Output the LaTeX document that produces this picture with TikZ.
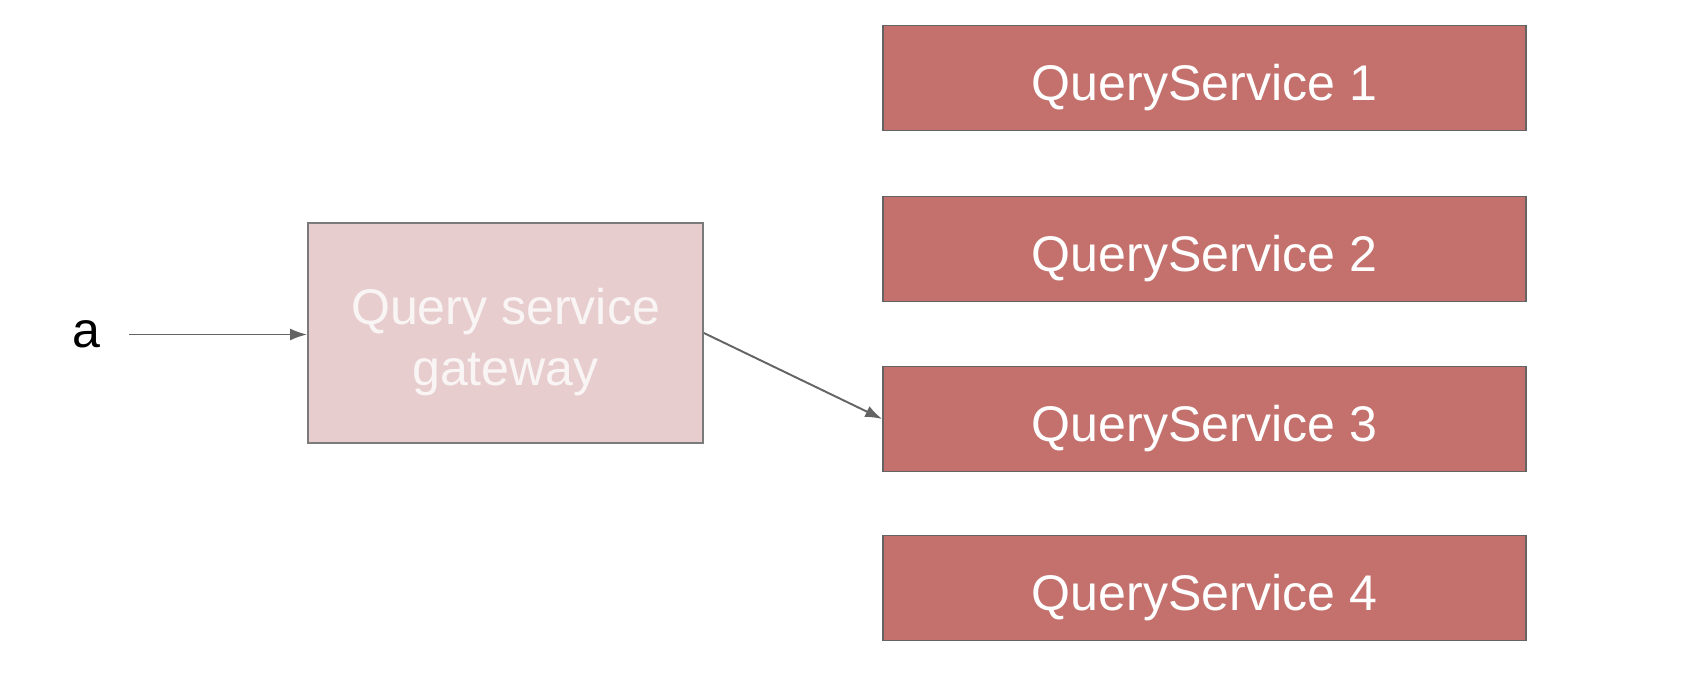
\documentclass[tikz,border=0pt]{standalone}
\usepackage{fontspec}
\setmainfont{Liberation Sans}
\usetikzlibrary{arrows.meta}
\definecolor{qsred}{RGB}{196,112,108}
\definecolor{gwpink}{RGB}{232,205,207}
\definecolor{edgegray}{RGB}{100,100,100}
\tikzstyle{qsbox} = [draw=edgegray, fill=qsred, line width=0.9pt,
    rectangle, minimum width=12.86cm, minimum height=2.1cm,
    text=white, font=\fontsize{28.5}{34}\selectfont]
\tikzstyle{gwbox} = [draw=edgegray!85, fill=gwpink, line width=1pt,
    rectangle, minimum width=7.9cm, minimum height=4.4cm, align=center,
    text=white!80!gwpink, font=\fontsize{28.5}{34.7}\selectfont]
\tikzstyle{arr} = [draw=edgegray, line width=1.1pt,
    -{Latex[length=3.4mm,width=2.4mm]}]
\newcommand{\tallstrut}{\rule{0pt}{1.1em}}

\begin{document}
\begin{tikzpicture}
                \useasboundingbox (0,0) rectangle (33.64,-13.72);
                \node [font=\fontsize{28.5}{34}\selectfont, inner xsep=0.58cm] (a) at (1.72,-6.69) {a};
                \node [gwbox] (gw) at (10.11,-6.66) {\tallstrut Query service\\gateway};
                \foreach \i/\y in {1/-1.56, 2/-4.98, 3/-8.38, 4/-11.76}
                    \node [qsbox] (qs\i) at (24.09,\y) {\tallstrut QueryService \i};
                \draw [arr] (a) -- (a -| gw.west);
                \draw [arr] (gw.east) -- (qs3.west);
            \end{tikzpicture}
\end{document}
